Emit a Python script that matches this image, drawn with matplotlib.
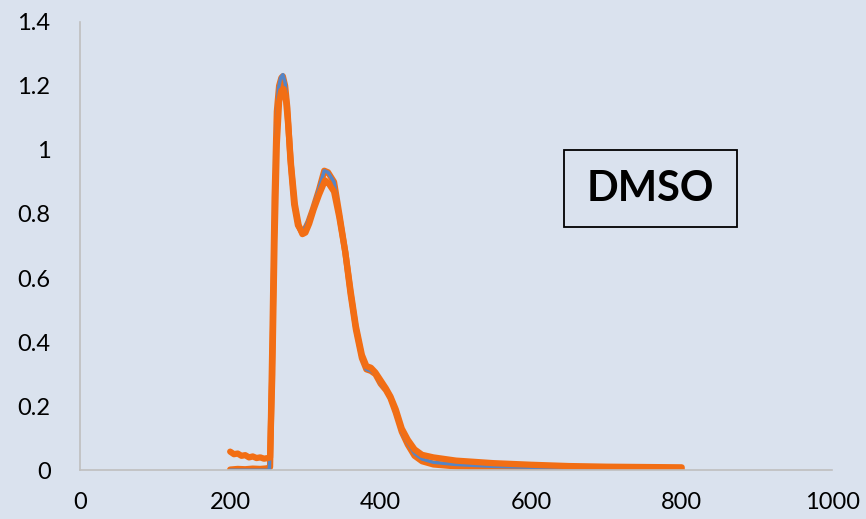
import matplotlib.pyplot as plt
from matplotlib.patches import Rectangle

# wavelength (nm) and absorbance readings
x_blue = [200, 220, 240, 252, 255, 258, 261, 264, 267, 270, 273, 276, 280, 285, 290, 295, 299,
          304, 310, 318, 325, 330, 338, 345, 353, 360, 367, 375, 381, 387, 393, 400, 407, 413,
          420, 428, 436, 445, 455, 470, 500, 550, 600, 650, 700, 750, 800]
y_blue = [0.0, 0.0, 0.0, 0.0, 0.25, 0.7, 1.05, 1.19, 1.225, 1.235, 1.21, 1.14, 0.98, 0.84, 0.77,
          0.75, 0.755, 0.78, 0.82, 0.88, 0.935, 0.93, 0.90, 0.80, 0.68, 0.55, 0.44, 0.35, 0.315,
          0.31, 0.30, 0.27, 0.25, 0.225, 0.18, 0.12, 0.085, 0.052, 0.035, 0.025, 0.018, 0.012,
          0.009, 0.007, 0.006, 0.005, 0.004]

x_or1 = [200, 205, 210, 215, 220, 225, 230, 235, 240, 245, 250, 253, 256, 259, 262, 265, 268,
         271, 274, 277, 281, 286, 291, 296, 300, 305, 311, 318, 326, 331, 338, 345, 353, 360,
         367, 375, 381, 387, 393, 400, 407, 413, 420, 428, 436, 445, 455, 470, 500, 550, 600,
         650, 700, 750, 800]
y_or1 = [0.058, 0.05, 0.052, 0.045, 0.047, 0.04, 0.043, 0.038, 0.04, 0.036, 0.038, 0.04, 0.3,
         0.72, 1.02, 1.15, 1.185, 1.19, 1.16, 1.08, 0.95, 0.83, 0.765, 0.737, 0.742, 0.77, 0.815,
         0.86, 0.905, 0.895, 0.87, 0.79, 0.68, 0.56, 0.45, 0.36, 0.325, 0.32, 0.305, 0.28, 0.255,
         0.23, 0.19, 0.13, 0.095, 0.065, 0.048, 0.04, 0.03, 0.022, 0.017, 0.013, 0.011, 0.01,
         0.009]

x_or2 = [200, 210, 220, 230, 240, 250, 253, 256, 259, 262, 265, 268, 270, 273, 276, 280, 285,
         290, 295, 299, 304, 310, 318, 325, 330, 338, 345, 353, 360, 367, 375, 381, 387, 393,
         400, 407, 413, 420, 428, 436, 445, 455, 470, 500, 550, 600, 650, 700, 750, 800]
y_or2 = [0.002, 0.004, 0.003, 0.005, 0.004, 0.006, 0.01, 0.4, 0.85, 1.12, 1.2, 1.225, 1.23,
         1.2, 1.13, 0.97, 0.83, 0.765, 0.745, 0.75, 0.775, 0.815, 0.875, 0.935, 0.93, 0.9, 0.8,
         0.68, 0.55, 0.44, 0.35, 0.315, 0.31, 0.3, 0.27, 0.25, 0.225, 0.18, 0.12, 0.08, 0.045,
         0.028, 0.018, 0.012, 0.008, 0.006, 0.005, 0.004, 0.003, 0.002]

bg = '#DAE2EE'
orange = '#F26E14'
blue = '#5585C6'

plt.rcParams['font.family'] = ['Lato', 'DejaVu Sans']

fig = plt.figure(figsize=(8.66, 5.19), dpi=100, facecolor=bg)
ax = fig.add_axes([0.092, 0.094, 0.869, 0.864])
ax.set_facecolor(bg)

ax.plot(x_or2, y_or2, color=orange, lw=4.5, solid_capstyle='round', solid_joinstyle='round')
ax.plot(x_blue, y_blue, color=blue, lw=2.5, solid_capstyle='round', solid_joinstyle='round')
ax.plot(x_or1, y_or1, color=orange, lw=4.5, solid_capstyle='round', solid_joinstyle='round')

ax.set_xlim(0, 1000)
ax.set_ylim(0, 1.4)
ax.set_xticks(range(0, 1001, 200))
ax.set_yticks([0, 0.2, 0.4, 0.6, 0.8, 1.0, 1.2, 1.4])
ax.set_yticklabels(['0', '0.2', '0.4', '0.6', '0.8', '1', '1.2', '1.4'])
ax.tick_params(axis='both', length=0, labelsize=17, colors='black')
ax.tick_params(axis='y', pad=21)
ax.tick_params(axis='x', pad=16)

for s in ['top', 'right']:
    ax.spines[s].set_visible(False)
for s in ['left', 'bottom']:
    ax.spines[s].set_color('#BFBFBF')
    ax.spines[s].set_linewidth(1.2)

# label box
fig.patches.append(Rectangle((0.651, 0.5626), 0.2, 0.148, transform=fig.transFigure,
                             facecolor=bg, edgecolor='black', linewidth=1.3))
fig.text(0.751, 0.636, 'DMSO', fontsize=30, fontweight='bold', ha='center', va='center')

fig.savefig('out.png', dpi=100, facecolor=bg)
